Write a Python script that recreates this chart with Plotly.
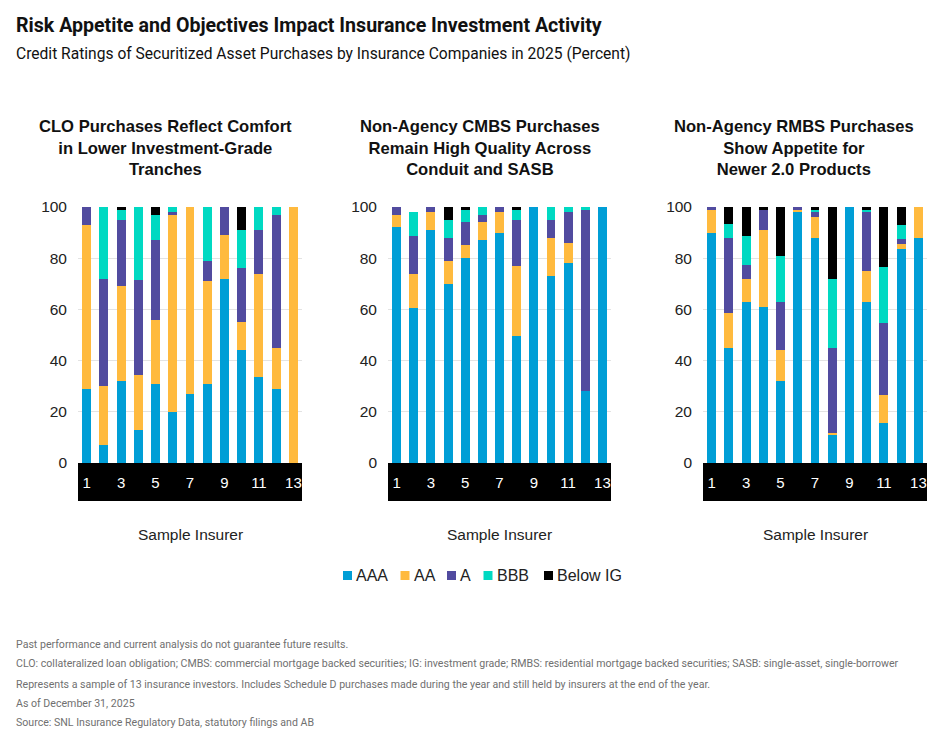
import plotly.graph_objects as go

insurers = list(range(1, 14))
ratings = ["AAA", "AA", "A", "BBB", "Below IG"]
colors = ["#009ED6", "#FFBA3E", "#514B9F", "#00D9C2", "#000000"]

# CLO purchases (percent)
clo_aaa = [29, 7, 32, 13, 31, 20, 27, 31, 72, 44, 33.5, 29, 0]
clo_aa = [64, 23, 37, 21.5, 25, 77, 73, 40, 17, 11, 40.5, 16, 100]
clo_a = [7, 42, 26, 37, 31, 1, 0, 8, 11, 21, 17, 52, 0]
clo_bbb = [0, 28, 4, 28.5, 10, 2, 0, 21, 0, 15, 9, 3, 0]
clo_big = [0, 0, 1, 0, 3, 0, 0, 0, 0, 9, 0, 0, 0]

# Non-agency CMBS purchases (percent)
cmbs_aaa = [92, 60.5, 91, 70, 80, 87, 90, 49.5, 100, 73, 78, 28, 100]
cmbs_aa = [5, 13.5, 7, 9, 5, 7, 8, 27.5, 0, 15, 8, 0, 0]
cmbs_a = [3, 14.5, 2, 9, 9, 3, 2, 18, 0, 7, 12, 71, 0]
cmbs_bbb = [0, 9.5, 0, 7, 5, 3, 0, 4, 0, 5, 2, 1, 0]
cmbs_big = [0, 0, 0, 5, 1, 0, 0, 1, 0, 0, 0, 0, 0]

# Non-agency RMBS purchases (percent)
rmbs_aaa = [90, 45, 63, 61, 32, 98, 88, 11, 100, 63, 15.5, 83.5, 88]
rmbs_aa = [9, 13.5, 9, 30, 12, 1, 8, 0.7, 0, 12, 11, 2, 12]
rmbs_a = [1, 29.5, 5.5, 8, 19, 1, 2, 33.3, 0, 23, 28, 2, 0]
rmbs_bbb = [0, 5.5, 11, 0, 18, 0, 1, 27, 0, 1, 22, 5.5, 0]
rmbs_big = [0, 6.5, 11.5, 1, 19, 0, 1, 28, 0, 1, 23.5, 7, 0]

panels = [
    [clo_aaa, clo_aa, clo_a, clo_bbb, clo_big],
    [cmbs_aaa, cmbs_aa, cmbs_a, cmbs_bbb, cmbs_big],
    [rmbs_aaa, rmbs_aa, rmbs_a, rmbs_bbb, rmbs_big],
]
panel_titles = [
    "CLO Purchases Reflect Comfort<br>in Lower Investment-Grade<br>Tranches",
    "Non-Agency CMBS Purchases<br>Remain High Quality Across<br>Conduit and SASB",
    "Non-Agency RMBS Purchases<br>Show Appetite for<br>Newer 2.0 Products",
]
x_axis_title = "Sample Insurer"
x_tick_vals = [1, 3, 5, 7, 9, 11, 13]
y_tick_vals = [0, 20, 40, 60, 80, 100]

title = "Risk Appetite and Objectives Impact Insurance Investment Activity"
subtitle = "Credit Ratings of Securitized Asset Purchases by Insurance Companies in 2025 (Percent)"
footnotes = [
    "Past performance and current analysis do not guarantee future results.",
    "CLO: collateralized loan obligation; CMBS: commercial mortgage backed securities; IG: investment grade; RMBS: residential mortgage backed securities; SASB: single-asset, single-borrower",
    "Represents a sample of 13 insurance investors. Includes Schedule D purchases made during the year and still held by insurers at the end of the year.",
    "As of December 31, 2025",
    "Source: SNL Insurance Regulatory Data, statutory filings and AB",
]

W, H = 938, 747
def px(x):
    return x / W
def py(y):
    return (H - y) / H

x_domains = [(78, 302), (388, 611), (703, 927)]
y_dom = [py(463), py(207)]
title_centers = [165, 480, 794]
legend_square_x = [343, 400.5, 447, 483.5, 544]

BODY = "Liberation Sans, Arial, sans-serif"
HEAD = "Roboto, sans-serif"

fig = go.Figure()
for p, series in enumerate(panels):
    suffix = "" if p == 0 else str(p + 1)
    for i, vals in enumerate(series):
        fig.add_trace(go.Bar(
            x=insurers, y=vals, name=ratings[i],
            marker=dict(color=colors[i], line=dict(width=0)),
            xaxis="x" + suffix, yaxis="y" + suffix,
            showlegend=False, hoverinfo="skip",
        ))

layout = dict(
    width=W, height=H,
    margin=dict(l=0, r=0, t=0, b=0, pad=0, autoexpand=False),
    paper_bgcolor="white", plot_bgcolor="white",
    barmode="stack", bargap=0.48,
    font=dict(family=BODY, color="#222222"),
    showlegend=False,
)
shapes = []
annotations = []
for p in range(3):
    suffix = "" if p == 0 else str(p + 1)
    xd = x_domains[p]
    layout["xaxis" + suffix] = dict(
        domain=[px(xd[0]), px(xd[1])], anchor="y" + suffix, automargin=False,
        range=[0.5, 13.5], tickvals=x_tick_vals, ticks="", ticklabelstandoff=9,
        tickfont=dict(size=15, color="white", family=BODY),
        showgrid=False, zeroline=False, showline=False, fixedrange=True,
    )
    layout["yaxis" + suffix] = dict(
        domain=y_dom, anchor="x" + suffix, automargin=False,
        range=[0, 100], tickvals=y_tick_vals, ticks="", ticklabelstandoff=10,
        tickfont=dict(size=15.5, color="#222222", family=BODY),
        showgrid=True, gridcolor="#E3E3E3", gridwidth=1,
        zeroline=False, showline=False, fixedrange=True,
    )
    shapes.append(dict(type="rect", xref="x" + suffix + " domain", yref="paper",
                       x0=0, x1=1, y0=py(501), y1=py(463),
                       fillcolor="black", line=dict(width=0), layer="below"))
    annotations.append(dict(text="<b>" + panel_titles[p] + "</b>", xref="paper", yref="paper",
                            x=px(title_centers[p]), y=py(148), xanchor="center", yanchor="middle",
                            showarrow=False, align="center",
                            font=dict(size=16.6, family=BODY, color="#111111")))
    annotations.append(dict(text=x_axis_title, xref="paper", yref="paper",
                            x=px((xd[0] + xd[1]) / 2), y=py(534), xanchor="center", yanchor="middle",
                            showarrow=False, font=dict(size=15.5, family=BODY, color="#222222")))

# legend built from squares and text labels
for i, name in enumerate(ratings):
    x0 = legend_square_x[i]
    shapes.append(dict(type="rect", xref="paper", yref="paper",
                       x0=px(x0), x1=px(x0 + 9), y0=py(580), y1=py(571),
                       fillcolor=colors[i], line=dict(width=0)))
    annotations.append(dict(text=name, xref="paper", yref="paper",
                            x=px(x0 + 11), y=py(575.5), xanchor="left", yanchor="middle",
                            showarrow=False, font=dict(size=16, family=BODY, color="#222222")))

annotations.append(dict(text="<b>" + title + "</b>", xref="paper", yref="paper",
                        x=px(14), y=py(26), xanchor="left", yanchor="middle", showarrow=False,
                        font=dict(size=19.6, family=HEAD, color="#111111")))
annotations.append(dict(text=subtitle, xref="paper", yref="paper",
                        x=px(14), y=py(54), xanchor="left", yanchor="middle", showarrow=False,
                        font=dict(size=15.6, family=HEAD, color="#111111")))
for i, (t, yy) in enumerate(zip(footnotes, [644, 663, 684, 703, 722])):
    annotations.append(dict(text=t, xref="paper", yref="paper",
                            x=px(14), y=py(yy), xanchor="left", yanchor="middle", showarrow=False,
                            font=dict(size=10.6, family=HEAD, color="#707070")))

layout["shapes"] = shapes
layout["annotations"] = annotations
fig.update_layout(**layout)
fig.write_html("out.html")
